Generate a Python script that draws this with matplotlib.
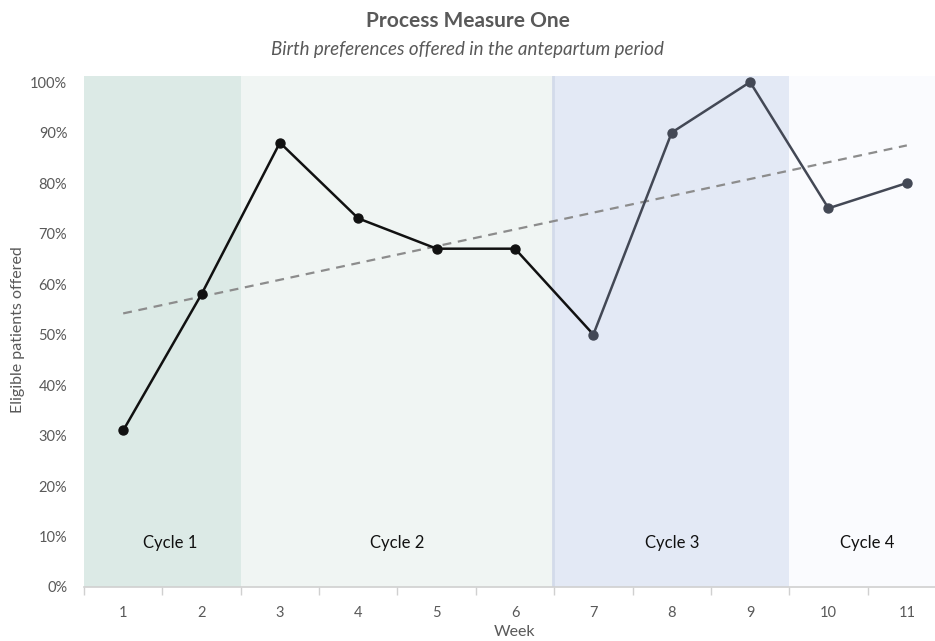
import matplotlib
matplotlib.use("Agg")
import matplotlib.pyplot as plt
import numpy as np
from matplotlib.ticker import FuncFormatter, FixedLocator

weeks = [1, 2, 3, 4, 5, 6, 7, 8, 9, 10, 11]
values = [0.31, 0.58, 0.88, 0.73, 0.67, 0.67, 0.50, 0.90, 1.00, 0.75, 0.80]
cycle_names = ["Cycle 1", "Cycle 2", "Cycle 3", "Cycle 4"]
cycle_starts = [0.5, 2.5, 6.5, 9.5]
cycle_ends = [2.5, 6.5, 9.5, 11.5]
cycle_colors = ["#dceae6", "#f0f5f3", "#e3e9f5", "#fafbfe"]
split_week = 7  # weeks from here on drawn in slate

plt.rcParams['font.family'] = ['Lato', 'DejaVu Sans']

fig = plt.figure(figsize=(9.35, 6.41), dpi=100)
ax = fig.add_axes([84/935, 1-587/641, (946-84)/935, (587-76)/641])

for s, e, c, name in zip(cycle_starts, cycle_ends, cycle_colors, cycle_names):
    ax.axvspan(s, e, ymin=0, ymax=1, color=c, lw=0, zorder=0)
    xc = (s + e) / 2 + (0.1 if name == "Cycle 1" else 0)
    ax.text(xc, 0.087, name, ha='center', va='center', fontsize=12, color='#111111', zorder=3)
ax.axvline(6.48, color='#d3dbea', lw=2, zorder=0.5)

x = np.array(weeks)
y = np.array(values)
k = weeks.index(split_week)
dark = '#111111'
slate = '#434855'
ax.plot(x[:k+1], y[:k+1], color=dark, lw=1.8, zorder=2)
ax.plot(x[k:], y[k:], color=slate, lw=1.8, zorder=2)
ax.scatter(x[:k], y[:k], color=dark, s=42, zorder=4, clip_on=False)
ax.scatter(x[k:], y[k:], color=slate, s=42, zorder=4, clip_on=False)

coef = np.polyfit(x, y, 1)
ax.plot(x, np.polyval(coef, x), color='#8c8c8c', lw=1.6, ls=(0, (4, 3)), zorder=1.5)

ax.set_xlim(0.5, 11.5)
ax.set_ylim(0, 1.012)
ax.set_yticks(np.arange(0, 1.01, 0.1))
ax.yaxis.set_major_formatter(FuncFormatter(lambda v, p: f"{int(round(v*100))}%"))
ax.set_xticks(weeks)
ax.set_xticklabels([str(w) for w in weeks])
ax.xaxis.set_minor_locator(FixedLocator(np.arange(0.5, 11.6, 1)))
ax.tick_params(axis='x', which='major', length=0, pad=14, labelsize=10.5, labelcolor='#595959')
ax.tick_params(axis='x', which='minor', length=6, color='#d0d0d0', width=1)
ax.tick_params(axis='y', length=0, labelsize=10.5, labelcolor='#595959', pad=12)
for sp in ['top', 'right', 'left']:
    ax.spines[sp].set_visible(False)
ax.spines['bottom'].set_color('#d0d0d0')
ax.spines['bottom'].set_linewidth(1.2)

ax.set_xlabel("Week", fontsize=11.5, color='#595959')
ax.set_ylabel("Eligible patients offered", fontsize=11.5, color='#595959')
ax.xaxis.set_label_coords((514 - 84) / (946 - 84), -(632 - 587) / (587 - 76))
ax.xaxis.label.set_va('center')
ax.yaxis.set_label_coords(-(84 - 18) / (946 - 84), (587 - 330) / (587 - 76))
ax.yaxis.label.set_va('center')

fig.text(0.5, 1-21/641, "Process Measure One", ha='center', va='center', fontsize=15,
         fontweight='bold', color='#595959')
fig.text(0.5, 1-49/641, "Birth preferences offered in the antepartum period", ha='center',
         va='center', fontsize=13.5, style='italic', color='#595959')

fig.savefig("out.png", dpi=100)
